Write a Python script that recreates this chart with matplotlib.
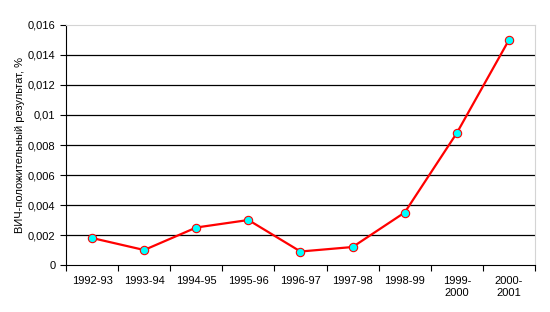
import numpy as np
import matplotlib.pyplot as plt
from matplotlib.ticker import FuncFormatter

plt.rcParams["font.family"] = ["Liberation Sans", "DejaVu Sans"]

# данные
years = ["1992-93", "1993-94", "1994-95", "1995-96", "1996-97", "1997-98",
         "1998-99", "1999-\n2000", "2000-\n2001"]
hiv = [0.0018, 0.001, 0.0025, 0.003, 0.0009, 0.0012, 0.0035, 0.0088, 0.015]

fig = plt.figure(figsize=(5.5, 3.12), dpi=100)
ax = fig.add_axes([0.12, 0.1506, 0.8527, 0.7693])

x = np.arange(len(hiv)) + 0.5
ax.plot(x, hiv, color="#ff0000", lw=1.6, marker="o", markersize=6,
        markerfacecolor="#00ffff", markeredgecolor="#ff0000",
        markeredgewidth=0.8, zorder=4)

ax.set_xlim(0, len(hiv))
ax.set_ylim(0, 0.016)
ax.set_yticks(np.arange(0, 0.0161, 0.002))
ax.yaxis.set_major_formatter(FuncFormatter(
    lambda v, p: ("%g" % round(v, 4)).replace(".", ",")))
ax.set_xticks(np.arange(0, len(hiv) + 1))
ax.set_xticklabels([])
ax.set_xticks(x, minor=True)
ax.set_xticklabels(years, minor=True, fontsize=8)
ax.tick_params(axis="x", which="minor", length=0, pad=8)
ax.tick_params(axis="x", which="major", length=4, direction="out", width=0.8)
ax.tick_params(axis="y", length=4, direction="out", width=0.8, labelsize=8)

for v in np.arange(0.002, 0.0151, 0.002):
    ax.axhline(v, color="black", lw=0.9, zorder=1)

ax.spines["left"].set_color("black")
ax.spines["bottom"].set_color("black")
ax.spines["top"].set_color("#d4d4d4")
ax.spines["right"].set_color("#d4d4d4")
ax.set_ylabel("ВИЧ-положительный результат, %", fontsize=8)
ax.yaxis.set_label_coords(-0.088, 0.5)

fig.savefig("out.png", dpi=100)
